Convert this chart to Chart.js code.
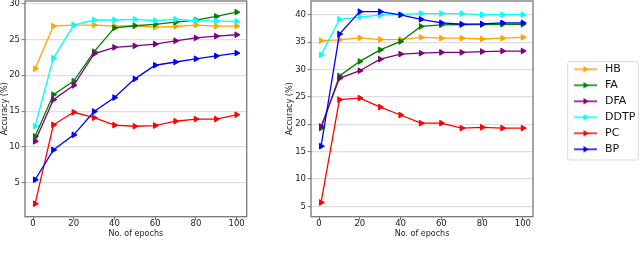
<!DOCTYPE html>
<html>
<meta charset="utf-8" />
<style>
	html, body {
		width: 640px;
		height: 254px;
		margin: 0;
		padding: 0;
		overflow: hidden;
		background: #fff;
	}
	#leftChart { position: absolute; left: 0; top: 0; }
	#rightChart { position: absolute; left: 285px; top: 0; }
</style>
<script src="https://cdn.jsdelivr.net/npm/chart.js"></script>
<body>
	<canvas id="leftChart" width="250" height="254"></canvas>
	<canvas id="rightChart" width="355" height="254"></canvas>
<script>

	// Shared values
	var epochs = [1, 10, 20, 30, 40, 50, 60, 70, 80, 90, 100];
	var names = ['HB', 'FA', 'DFA', 'DDTP', 'PC', 'BP'];
	var colors = ['#ffa500', '#008000', '#800080', '#00ffff', '#ff0000', '#0000ff'];
	var xTicks = [0, 20, 40, 60, 80, 100];
	var leftYTicks = [5, 10, 15, 20, 25, 30];
	var rightYTicks = [5, 10, 15, 20, 25, 30, 35, 40];

	// Left panel
	var leftHB   = [20.9, 26.85, 27.0, 27.0, 26.85, 26.9, 26.7, 26.8, 27.0, 26.85, 26.85];
	var leftFA   = [11.5, 17.3, 19.2, 23.3, 26.6, 26.9, 27.1, 27.4, 27.7, 28.2, 28.8];
	var leftDFA  = [10.8, 16.6, 18.6, 23.0, 23.9, 24.1, 24.35, 24.8, 25.2, 25.45, 25.65];
	var leftDDTP = [12.9, 22.4, 27.0, 27.7, 27.7, 27.8, 27.6, 27.8, 27.6, 27.55, 27.5];
	var leftPC   = [2.1, 13.1, 14.85, 14.1, 13.05, 12.9, 13.0, 13.6, 13.9, 13.9, 14.5];
	var leftBP   = [5.45, 9.6, 11.7, 14.95, 16.9, 19.5, 21.4, 21.85, 22.3, 22.7, 23.1];

	// Right panel
	var rightHB   = [35.3, 35.45, 35.8, 35.5, 35.5, 35.9, 35.75, 35.75, 35.6, 35.75, 35.9];
	var rightFA   = [19.3, 28.85, 31.5, 33.6, 35.15, 37.9, 38.2, 38.25, 38.25, 38.3, 38.3];
	var rightDFA  = [19.6, 28.4, 29.8, 31.9, 32.85, 33.0, 33.15, 33.15, 33.3, 33.4, 33.4];
	var rightDDTP = [32.7, 39.2, 39.6, 39.95, 40.1, 40.25, 40.25, 40.25, 40.05, 40.05, 40.05];
	var rightPC   = [5.7, 24.5, 24.8, 23.15, 21.7, 20.2, 20.2, 19.3, 19.45, 19.3, 19.3];
	var rightBP   = [16.0, 36.5, 40.6, 40.6, 40.0, 39.2, 38.55, 38.3, 38.35, 38.55, 38.55];

	var fontFamily = "'DejaVu Sans', sans-serif";
	var frameColor = '#777';

	// Small line + right triangle icon for the legend
	function makeIcon(color) {
		var c = document.createElement('canvas');
		c.width = 23;
		c.height = 10;
		var g = c.getContext('2d');
		g.strokeStyle = color;
		g.fillStyle = color;
		g.lineWidth = 1.5;
		g.beginPath();
		g.moveTo(0, 5);
		g.lineTo(23, 5);
		g.stroke();
		g.beginPath();
		g.moveTo(15, 5);
		g.lineTo(9.5, 1.8);
		g.lineTo(9.5, 8.2);
		g.closePath();
		g.fill();
		return c;
	}
	var icons = colors.map(makeIcon);

	function buildDatasets(series) {
		return series.map(function (values, i) {
			return {
				label: names[i],
				data: values.map(function (v, j) { return {x: epochs[j], y: v}; }),
				borderColor: colors[i],
				backgroundColor: colors[i],
				pointBackgroundColor: colors[i],
				pointBorderColor: colors[i],
				borderWidth: 1.3,
				pointRadius: 3.3,
				pointBorderWidth: 1,
				pointStyle: 'triangle',
				pointRotation: 90,
				tension: 0,
				order: series.length - 1 - i
			};
		});
	}

	// Box round the plot area
	var framePlugin = {
		id: 'frame',
		afterDraw: function (chart) {
			var a = chart.chartArea, ctx = chart.ctx;
			ctx.save();
			ctx.strokeStyle = frameColor;
			ctx.lineWidth = 1.3;
			ctx.strokeRect(a.left, a.top, a.right - a.left, a.bottom - a.top);
			ctx.restore();
		}
	};

	// Moves the legend outside the plot and draws its box
	var legendLeft = 566.5 - 285;
	var legendTop = 58.8;
	var legendPlugin = {
		id: 'legendBox',
		beforeDraw: function (chart) {
			var lg = chart.legend;
			if (!lg || !lg.options.display) return;
			var w = lg.width, h = lg.height;
			lg.left = legendLeft;
			lg.right = legendLeft + w;
			lg.top = legendTop;
			lg.bottom = legendTop + h;
		},
		afterDraw: function (chart) {
			var lg = chart.legend;
			if (!lg || !lg.options.display) return;
			var ctx = chart.ctx;
			ctx.save();
			ctx.strokeStyle = '#d8d8d8';
			ctx.lineWidth = 1;
			ctx.beginPath();
			ctx.roundRect(legendLeft + 1.2, legendTop + 2.9, 70.6, 98.3, 2);
			ctx.stroke();
			ctx.restore();
		}
	};

	function makeConfig(series, yTicks, yMin, yMax, yWidth, padRight, showLegend) {
		return {
			type: 'line',
			data: { datasets: buildDatasets(series) },
			options: {
				responsive: false,
				animation: false,
				events: [],
				layout: {
					autoPadding: false,
					padding: { top: 1, right: padRight, bottom: 0, left: 0 }
				},
				scales: {
					x: {
						type: 'linear',
						min: -3.95,
						max: 104.95,
						afterBuildTicks: function (scale) {
							scale.ticks = xTicks.map(function (v) { return {value: v}; });
						},
						afterFit: function (scale) {
							scale.height = 37.3;
							scale.paddingLeft = 0;
							scale.paddingRight = 0;
						},
						grid: {
							drawOnChartArea: false,
							tickColor: frameColor,
							tickLength: 3.5,
							tickWidth: 1
						},
						border: { display: false },
						ticks: {
							color: '#222',
							padding: -1.5,
							maxRotation: 0,
							font: { family: fontFamily, size: 8.5 }
						},
						title: {
							display: true,
							text: 'No. of epochs',
							color: '#222',
							padding: { top: 0, bottom: 15 },
							font: { family: fontFamily, size: 8 }
						}
					},
					y: {
						type: 'linear',
						min: yMin,
						max: yMax,
						afterBuildTicks: function (scale) {
							scale.ticks = yTicks.map(function (v) { return {value: v}; });
						},
						afterFit: function (scale) {
							scale.width = yWidth;
							scale.paddingTop = 0;
							scale.paddingBottom = 0;
						},
						grid: {
							color: '#dedede',
							lineWidth: 1.2,
							tickColor: frameColor,
							tickLength: 3.5,
							tickWidth: 1
						},
						border: { display: false },
						ticks: {
							color: '#222',
							padding: 1.5,
							font: { family: fontFamily, size: 8.5 }
						},
						title: {
							display: true,
							text: 'Accuracy (%)',
							color: '#222',
							padding: { top: 0, bottom: 0 },
							font: { family: fontFamily, size: 8 }
						}
					}
				},
				plugins: {
					tooltip: { enabled: false },
					legend: {
						display: showLegend,
						position: 'chartArea',
						align: 'start',
						labels: {
							usePointStyle: true,
							pointStyleWidth: 28,
							padding: 5,
							color: '#111',
							font: { family: fontFamily, size: 11 },
							sort: function (a, b) { return a.datasetIndex - b.datasetIndex; },
							generateLabels: function (chart) {
								var items = Chart.defaults.plugins.legend.labels.generateLabels(chart);
								items.forEach(function (it) {
									it.pointStyle = icons[it.datasetIndex];
									it.rotation = 0;
								});
								return items;
							}
						}
					}
				}
			},
			plugins: [framePlugin, legendPlugin]
		};
	}

	window.onload = function () {
		new Chart(
			document.getElementById('leftChart'),
			makeConfig([leftHB, leftFA, leftDFA, leftDDTP, leftPC, leftBP],
				leftYTicks, 0.3, 30.35, 25, 3.3, false)
		);
		new Chart(
			document.getElementById('rightChart'),
			makeConfig([rightHB, rightFA, rightDFA, rightDDTP, rightPC, rightBP],
				rightYTicks, 3.1, 42.55, 26, 107, true)
		);
	};

</script>
</body>
</html>
